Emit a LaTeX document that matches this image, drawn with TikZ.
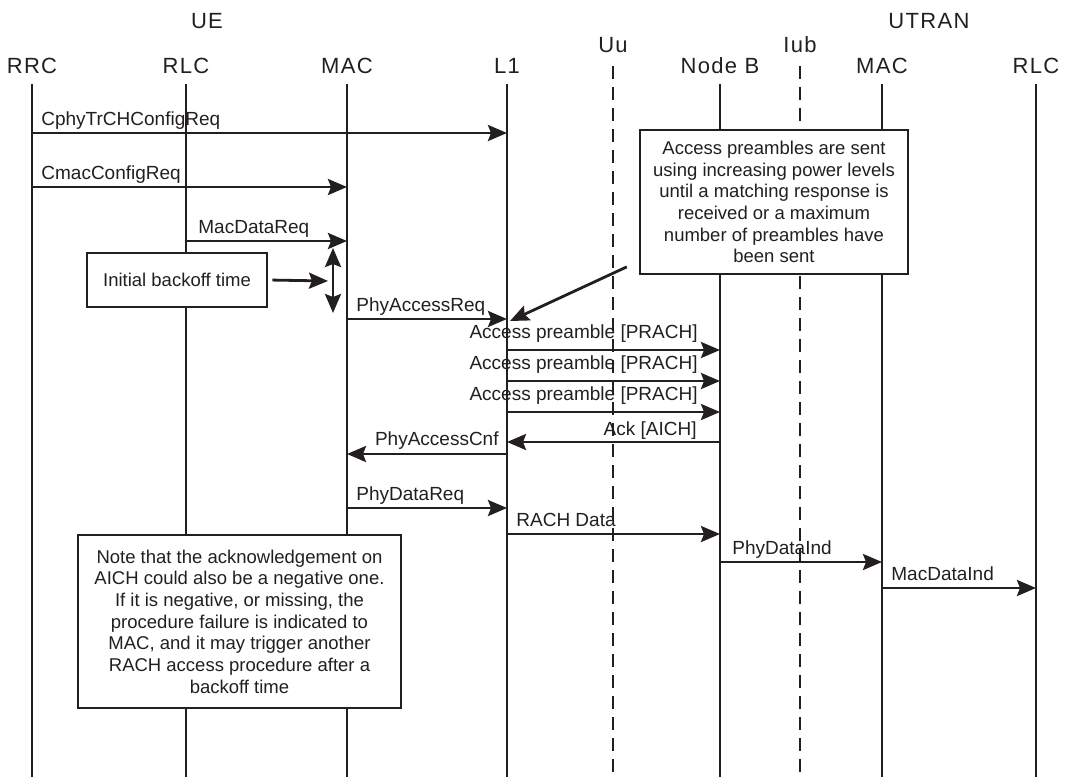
\documentclass[tikz,border=0pt]{standalone}
\usepackage{fontspec}
\setmainfont{Liberation Sans}
\usetikzlibrary{arrows.meta,positioning}
\definecolor{ink}{HTML}{231F20}

\begin{document}
\begin{tikzpicture}[x=1pt,y=-1pt, color=ink,
  >={Stealth[length=19pt,width=16pt,inset=3pt]},
  lifeline/.style={line width=2.8pt},
  iface/.style={line width=2.8pt, dash pattern=on 13pt off 8pt},
  msg/.style={line width=2.8pt, ->},
  head/.style={font=\fontsize{22}{25}\selectfont\addfontfeatures{LetterSpace=6}, inner sep=0pt, anchor=base},
  lbl/.style={font=\fontsize{19}{22}\selectfont, inner sep=0pt},
  rlbl/.style={lbl, pos=0, anchor=base west, xshift=8pt, yshift=8pt},
  notebox/.style={draw, line width=2.8pt, fill=white, align=center,
    font=\fontsize{18.5}{21.7}\selectfont, inner sep=0pt}]

\useasboundingbox (0,0) rectangle (1069,777);

% Entity headers
\node[head] (ue) at (207,28) {UE};
\node[head] (utran) at (929,28) {UTRAN};
\node[head] (rrc) at (32,73) {RRC};
\node[head] (rlc) at (186,73) {RLC};
\node[head] (mac) at (347,73) {MAC};
\node[head] (l1) at (507,73) {L1};
\node[head] (uu) at (613,52) {Uu};
\node[head] (nodeb) at (720,73) {Node B};
\node[head] (iub) at (800,52) {Iub};
\node[head] (umac) at (882,73) {MAC};
\node[head] (urlc) at (1036,73) {RLC};

% Lifelines
\coordinate (top) at (0,84);
\coordinate (itop) at (0,66);
\coordinate (bot) at (0,777);
\foreach \n in {rrc,rlc,mac,l1,nodeb,umac,urlc}
  \draw[lifeline] (\n |- top) -- (\n |- bot);
\foreach \n in {uu,iub}
  \draw[iface] (\n |- itop) -- (\n |- bot);

% Message rows
\coordinate (m1) at (0,133);
\coordinate (m2) at (0,187);
\coordinate (m3) at (0,241);
\coordinate (m4) at (0,319);
\coordinate (m5) at (0,350);
\coordinate (m6) at (0,381);
\coordinate (m7) at (0,412);
\coordinate (m8) at (0,442);
\coordinate (m9) at (0,454);
\coordinate (m10) at (0,508);
\coordinate (m11) at (0,534);
\coordinate (m12) at (0,562);
\coordinate (m13) at (0,588);

% Configuration and access request
\draw[msg] (m1 -| rrc) -- (m1 -| l1) node[rlbl] {CphyTrCHConfigReq};
\draw[msg] (m2 -| rrc) -- (m2 -| mac) node[rlbl] {CmacConfigReq};
\draw[msg] (m3 -| rlc) -- (m3 -| mac) node[rlbl, xshift=3pt] {MacDataReq};
\draw[msg] (m4 -| mac) -- (m4 -| l1) node[rlbl] {PhyAccessReq};

% Backoff
\node[notebox, minimum width=180pt, minimum height=54pt] (backoff) at (177,280) {Initial backoff time};
\coordinate (bo) at (328,281);
\draw[msg, shorten <=4pt] (backoff.east) -- (bo);
\coordinate (wtop) at (333,248);
\coordinate (wbot) at (333,313);
\draw[msg, <->] (wtop) -- (wbot);

% Preambles
\foreach \m in {m5,m6,m7}
  \draw[msg] (\m -| l1) -- (\m -| nodeb)
    node[lbl, pos=1, anchor=base east, xshift=-21pt, yshift=12pt] {Access preamble [PRACH]};
\draw[msg] (m8 -| nodeb) -- (m8 -| l1)
  node[lbl, pos=0, anchor=base east, xshift=-22pt, yshift=7pt] {Ack [AICH]};
\draw[msg] (m9 -| l1) -- (m9 -| mac)
  node[lbl, pos=0, anchor=base east, xshift=-7pt, yshift=9pt] {PhyAccessCnf};

% Data transfer
\draw[msg] (m10 -| mac) -- (m10 -| l1) node[rlbl] {PhyDataReq};
\draw[msg] (m11 -| l1) -- (m11 -| nodeb) node[rlbl] {RACH Data};
\draw[msg] (m12 -| nodeb) -- (m12 -| umac) node[rlbl, xshift=3pt] {PhyDataInd};
\draw[msg] (m13 -| umac) -- (m13 -| urlc) node[rlbl] {MacDataInd};

% Notes
\node[notebox, minimum width=268pt, minimum height=144pt] (note1) at (774,202)
  {Access preambles are sent\\using increasing power levels\\until a matching response is\\received or a maximum\\number of preambles have\\been sent};
\coordinate (ptr) at (510,321);
\draw[msg, shorten <=13pt] ([yshift=14pt]note1.south west) -- (ptr);

\node[notebox, minimum width=323pt, minimum height=173pt] (note2) at (239.5,621.5)
  {Note that the acknowledgement on\\AICH could also be a negative one.\\If it is negative, or missing, the\\procedure failure is indicated to\\MAC, and it may trigger another\\RACH access procedure after a\\backoff time};

\end{tikzpicture}
\end{document}
